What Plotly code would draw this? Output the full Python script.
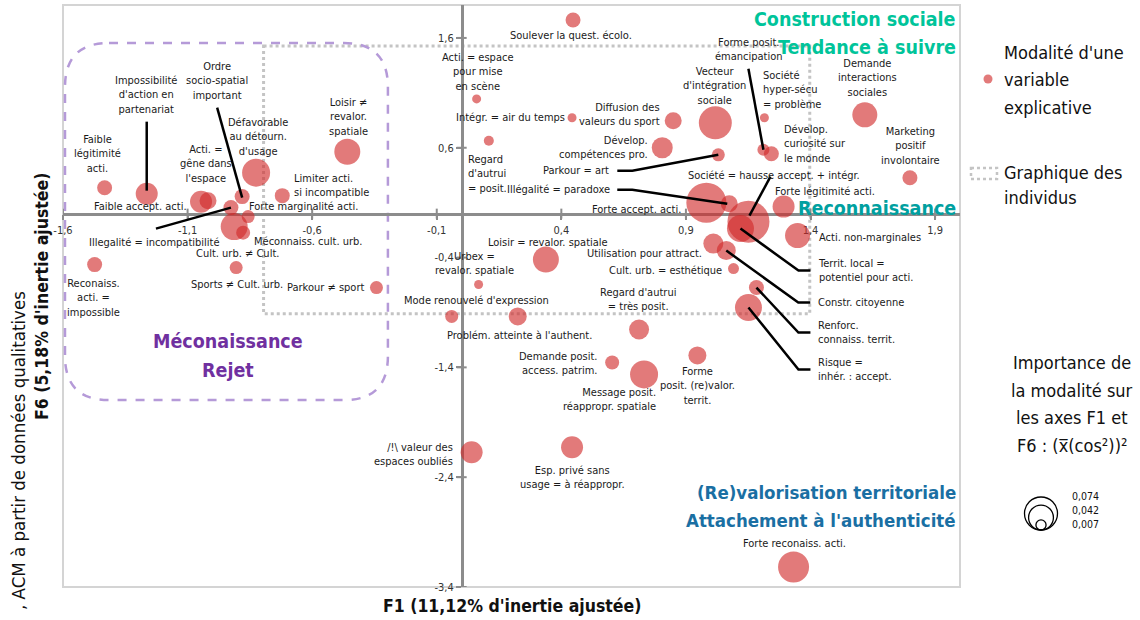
import plotly.graph_objects as go

# ---------------- data ----------------
labels = [
    "Faible\nlégitimité\nacti.", "Impossibilité\nd'action en\npartenariat", "Faible accept. acti.",
    "Acti. =\ngêne dans\nl'espace", "Illegalité = incompatibilité", "Ordre\nsocio-spatial\nimportant",
    "Défavorable\nau détourn.\nd'usage", "Limiter acti.\nsi incompatible", "Loisir ≠\nrevalor.\nspatiale",
    "Forte marginalité acti.", "Cult. urb. ≠ Cult.", "Méconnaiss. cult. urb.",
    "Sports ≠ Cult. urb.", "Reconaiss.\nacti. =\nimpossible", "Parkour ≠ sport",
    "Mode renouvelé d'expression", "Soulever la quest. écolo.", "Acti. = espace\npour mise\nen scène",
    "Intégr. = air du temps", "Regard\nd'autrui\n= posit.", "Diffusion des\nvaleurs du sport",
    "Dévelop.\ncompétences pro.", "Vecteur\nd'intégration\nsociale", "Parkour = art",
    "Forme posit.\némancipation", "Dévelop.\ncuriosité sur\nle monde", "Société\nhyper-sécu\n= problème",
    "Demande\ninteractions\nsociales", "Marketing\npositif\ninvolontaire", "Forte accept. acti.",
    "Illégalité = paradoxe", "Société = hausse accept. + intégr.", "Territ. local =\npotentiel pour acti.",
    "Forte légitimité acti.", "Acti. non-marginales", "Utilisation pour attract.",
    "Constr. citoyenne", "Cult. urb. = esthétique", "Renforc.\nconnaiss. territ.",
    "Risque =\ninhér. : accept.", "Loisir = revalor. spatiale", "Urbex =\nrevalor. spatiale",
    "Problém. atteinte à l'authent.", "Regard d'autrui\n= très posit.", "Demande posit.\naccess. patrim.",
    "Message posit.\nréappropr. spatiale", "Forme\nposit. (re)valor.\nterrit.", "/!\\ valeur des\nespaces oubliés",
    "Esp. privé sans\nusage = à réappropr.", "Forte reconaiss. acti.",
]
f1 = [-1.433, -1.264, -1.046, -1.018, -0.926, -0.881, -0.825, -0.720, -0.459, -0.857,
      -0.913, -0.877, -0.905, -1.473, -0.342, -0.040, 0.447, 0.060, 0.443, 0.109,
      0.849, 0.805, 1.018, 1.030, 1.211, 1.243, 1.215, 1.618, 1.799, 0.982,
      1.074, 1.151, 1.119, 1.292, 1.348, 1.010, 1.062, 1.091, 1.183, 1.151,
      0.338, 0.068, 0.225, 0.712, 0.604, 0.732, 0.946, 0.040, 0.443, 1.332]
f6 = [0.236, 0.182, 0.109, 0.118, 0.055, 0.155, 0.373, 0.164, 0.564, -0.027,
      -0.118, -0.173, -0.491, -0.464, -0.673, -0.936, 1.764, 1.045, 0.873, 0.664,
      0.845, 0.600, 0.827, 0.536, 0.582, 0.545, 0.873, 0.900, 0.327, 0.100,
      0.091, -0.073, -0.136, 0.064, -0.200, -0.273, -0.336, -0.500, -0.673, -0.855,
      -0.418, -0.645, -0.936, -1.055, -1.355, -1.464, -1.291, -2.173, -2.127, -3.218]
importance = [0.0153, 0.0329, 0.0329, 0.0196, 0.0153, 0.0153, 0.0533, 0.0153, 0.0459, 0.0115,
              0.0495, 0.0133, 0.0115, 0.0153, 0.0115, 0.0115, 0.0153, 0.0055, 0.0055, 0.0068,
              0.0196, 0.0300, 0.0740, 0.0115, 0.0098, 0.0153, 0.0055, 0.0425, 0.0153, 0.1087,
              0.0196, 0.1199, 0.0495, 0.0329, 0.0425, 0.0272, 0.0245, 0.0082, 0.0153, 0.0495,
              0.0459, 0.0055, 0.0220, 0.0272, 0.0133, 0.0533, 0.0220, 0.0329, 0.0329, 0.0653]

x_ticks = [-1.6, -1.1, -0.6, -0.1, 0.4, 0.9, 1.4, 1.9]
y_ticks = [1.6, 0.6, -0.4, -1.4, -2.4, -3.4]
size_legend = [0.074, 0.042, 0.007]

# ---------------- label layout (anchor, dx px, dy px downward) ----------------
label_pos = [
    ("center", -7, -34), ("center", -1, -99), ("right", -12, 5), ("center", -2, -37), ("center", -76, 35),
    ("center", -25, -116), ("center", 2, -36), ("left", 10, -10), ("center", 1, -35), ("left", -1, -10),
    ("center", 3, 27), ("left", 9, 9), ("center", 1, 17), ("center", -1, 33), ("right", -10, 0),
    ("center", 25, -16), ("center", -2, 16), ("center", 1, -27), ("right", -5, 0), ("left", -23, 33),
    ("right", -11, -6), ("right", -12, 0), ("center", -1, -37), ("right", -107, 16), ("center", -14, -100),
    ("left", 11, -10), ("left", -3, -28), ("center", 3, -37), ("center", 1, -32), ("right", -23, 7),
    ("right", -117, -14), ("center", 26, -46), ("left", 76, 42), ("center", 41, -15), ("left", 19, 2),
    ("right", -9, 10), ("left", 90, 52), ("right", -10, 2), ("left", 60, 45), ("left", 68, 62),
    ("center", 2, -17), ("center", -4, -21), ("center", 2, 19), ("center", -1, -30), ("right", -13, 1),
    ("right", 14, 25), ("center", 0, 31), ("right", -17, 2), ("center", 0, 30), ("center", 1, -24),
]
leaders = {
    1: [(0, -72), (0, -3)],
    4: [(-75, 21), (0, 0)],
    5: [(-25, -89), (0, 1)],
    23: [(-101, 16), (-86, 16), (0, 0)],
    24: [(-15, -81), (0, 0)],
    30: [(-112, -14), (-97, -14), (-2, 0)],
    31: [(22, -45), (1, -6)],
    32: [(0, 0), (58, 42), (70, 42)],
    36: [(0, 0), (72, 52), (84, 52)],
    38: [(0, 0), (42, 45), (54, 45)],
    39: [(0, 0), (50, 62), (62, 62)],
}

# ---------------- geometry ----------------
W, H = 1140, 620
M = dict(l=63, r=180, t=5, b=33)
X_RANGE = [-1.6, 2.0]
Y_RANGE = [-3.4, 1.9]
pw = W - M["l"] - M["r"]
ph = H - M["t"] - M["b"]
kx = pw / (X_RANGE[1] - X_RANGE[0])
ky = ph / (Y_RANGE[1] - Y_RANGE[0])

def px_x(px):
    return (px - M["l"]) / pw

def px_y(py):
    return (H - M["b"] - py) / ph

FONT = "DejaVu Sans Condensed, Liberation Sans Narrow, Arial Narrow, Liberation Sans, sans-serif"
RED = "rgb(208,40,40)"
MAXD = 33
sizeref = 2 * max(size_legend) / MAXD ** 2

fig = go.Figure()
fig.add_trace(go.Scatter(
    x=f1, y=f6, mode="markers",
    marker=dict(size=importance, sizemode="area", sizeref=sizeref,
                color=RED, opacity=0.62, line=dict(width=0)),
    text=[l.replace("\n", " ") for l in labels], hoverinfo="text", showlegend=False,
))

shapes = []
annotations = []

# frame
shapes.append(dict(type="rect", xref="paper", yref="paper", x0=0, x1=1, y0=0, y1=1,
                   line=dict(color="#d4d4d4", width=2), layer="below"))

# gray dotted rect (graphique des individus)
shapes.append(dict(type="rect", xref="x", yref="y", x0=-0.795, x1=1.397, y0=1.527, y1=-0.912,
                   line=dict(color="#c4c4c4", width=3, dash="dot"), layer="below"))

# purple dashed rounded rect
x0, x1, yt, yb = -1.592, -0.296, 1.554, -1.698
rx, ry = 44 / kx, 44 / ky
path = (f"M {x0+rx},{yt} L {x1-rx},{yt} Q {x1},{yt} {x1},{yt-ry} "
        f"L {x1},{yb+ry} Q {x1},{yb} {x1-rx},{yb} L {x0+rx},{yb} "
        f"Q {x0},{yb} {x0},{yb+ry} L {x0},{yt-ry} Q {x0},{yt} {x0+rx},{yt} Z")
shapes.append(dict(type="path", xref="x", yref="y", path=path,
                   line=dict(color="#b59ad8", width=2.5, dash="dash"), layer="below"))

# crossing tick marks
for v in x_ticks:
    shapes.append(dict(type="line", xref="x", yref="y", x0=v, x1=v, ysizemode="pixel",
                       yanchor=0, y0=-5, y1=5, line=dict(color="#8c8c8c", width=2), layer="below"))
for v in y_ticks:
    shapes.append(dict(type="line", xref="x", yref="y", y0=v, y1=v, xsizemode="pixel",
                       xanchor=0, x0=-5, x1=5, line=dict(color="#8c8c8c", width=2), layer="below"))

# leader lines
for i, pts in leaders.items():
    coords = [(f1[i] + dx / kx, f6[i] - dy / ky) for dx, dy in pts]
    p = "M " + " L ".join(f"{cx},{cy}" for cx, cy in coords)
    shapes.append(dict(type="path", xref="x", yref="y", path=p,
                       line=dict(color="black", width=2.5)))

# point labels
for i, txt in enumerate(labels):
    anc, dx, dy = label_pos[i]
    annotations.append(dict(x=f1[i], y=f6[i], xref="x", yref="y", text=txt.replace("\n", "<br>"),
                            showarrow=False, xanchor=anc, yanchor="middle", align=anc,
                            xshift=dx, yshift=-dy,
                            font=dict(family=FONT, size=11, color="#1a1a1a")))

def text_lines(lines, px, pys, anchor, size, color="#111", bold=False):
    for t, py in zip(lines, pys):
        f = dict(family=FONT, size=size, color=color)
        if bold:
            f["weight"] = "bold"
        annotations.append(dict(x=px_x(px), y=px_y(py), xref="paper", yref="paper", text=t,
                                showarrow=False, xanchor=anchor, yanchor="middle", font=f))

# group headings
text_lines(["Construction sociale", "Tendance à suivre"], 958, [19, 48], "right", 19.5, "#00c49a", True)
text_lines(["Reconnaissance"], 958, [208], "right", 19.5, "#00a0a0", True)
text_lines(["(Re)valorisation territoriale", "Attachement à l'authenticité"], 958, [492, 520],
           "right", 18.5, "#1a6fa3", True)
text_lines(["Méconaissance", "Rejet"], 228, [342, 370], "center", 19.5, "#7030a0", True)

# axis titles
annotations.append(dict(x=0.5, y=px_y(606), xref="paper", yref="paper",
                        text="F1 (11,12% d'inertie ajustée)", showarrow=False,
                        xanchor="center", yanchor="middle",
                        font=dict(family=FONT, size=17.5, color="#111", weight="bold")))
annotations.append(dict(x=px_x(42), y=px_y(297), xref="paper", yref="paper",
                        text="F6 (5,18% d'inertie ajustée)", showarrow=False, textangle=-90,
                        xanchor="center", yanchor="middle",
                        font=dict(family=FONT, size=17.5, color="#111", weight="bold")))
annotations.append(dict(x=px_x(19), y=px_y(451), xref="paper", yref="paper",
                        text=", ACM à partir de données qualitatives", showarrow=False, textangle=-90,
                        xanchor="center", yanchor="middle",
                        font=dict(family=FONT, size=18.5, color="#111")))

# legend (right side)
shapes.append(dict(type="circle", xref="paper", yref="paper", xsizemode="pixel", ysizemode="pixel",
                   xanchor=px_x(988), yanchor=px_y(79), x0=-4.5, x1=4.5, y0=-4.5, y1=4.5,
                   fillcolor=RED, opacity=0.62, line=dict(width=0)))
text_lines(["Modalité d'une", "variable", "explicative"], 1002, [52, 80, 107], "left", 18)
shapes.append(dict(type="rect", xref="paper", yref="paper", x0=px_x(971), x1=px_x(997),
                   y0=px_y(168), y1=px_y(179), line=dict(color="#c4c4c4", width=2.5, dash="dot")))
text_lines(["Graphique des", "individus"], 1002, [172, 197], "left", 18)
text_lines(["Importance de", "la modalité sur", "les axes F1 et", "F6 : (x̅(cos²))²"],
           1072, [362, 390, 418, 445], "center", 18)

# size legend circles (bottom aligned)
cx, bottom = 1041, 530
for v in size_legend:
    d = MAXD * (v / max(size_legend)) ** 0.5
    shapes.append(dict(type="circle", xref="paper", yref="paper", xsizemode="pixel", ysizemode="pixel",
                       xanchor=px_x(cx), yanchor=px_y(bottom), x0=-d / 2, x1=d / 2, y0=0, y1=d,
                       line=dict(color="black", width=1.3)))
text_lines([f"{v:.3f}".replace(".", ",") for v in size_legend], 1070, [496, 510, 524], "left", 10.5)

axis_common = dict(showgrid=False, zeroline=False, showline=True, linecolor="#8c8c8c", linewidth=2.5,
                   ticks="outside", ticklen=5, tickwidth=2, tickcolor="#8c8c8c",
                   tickfont=dict(family=FONT, size=11, color="#333"), layer="below traces",
                   anchor="free", fixedrange=True)

fig.update_layout(
    width=W, height=H, margin=M, plot_bgcolor="white", paper_bgcolor="white",
    showlegend=False, shapes=shapes, annotations=annotations,
    xaxis=dict(range=X_RANGE, tickvals=x_ticks,
               ticktext=[f"{v:.1f}".replace(".", ",") for v in x_ticks],
               position=(0 - Y_RANGE[0]) / (Y_RANGE[1] - Y_RANGE[0]), **axis_common),
    yaxis=dict(range=Y_RANGE, tickvals=y_ticks,
               ticktext=[f"{v:.1f}".replace(".", ",") for v in y_ticks],
               position=(0 - X_RANGE[0]) / (X_RANGE[1] - X_RANGE[0]), **axis_common),
)

fig.write_html("out.html", config={"displayModeBar": False},
               post_script="document.body.style.margin='0px';")
